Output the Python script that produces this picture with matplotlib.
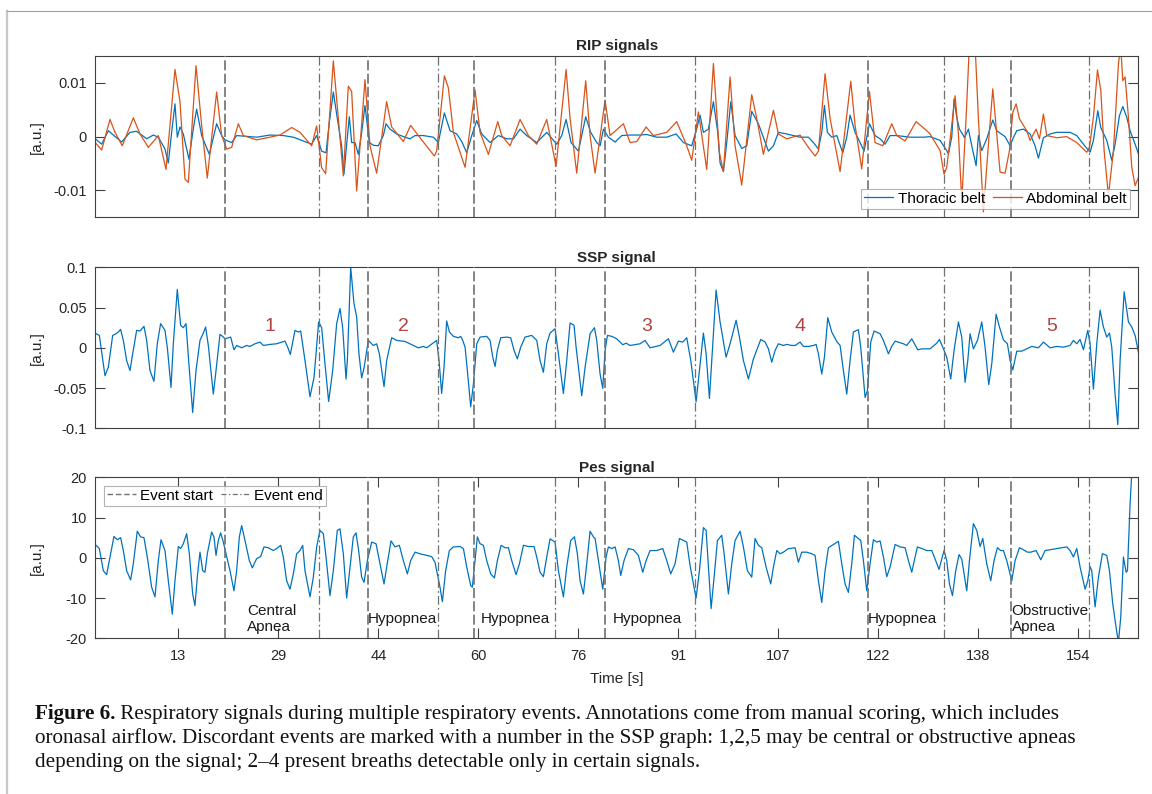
import numpy as np
import matplotlib
matplotlib.use("Agg")
import matplotlib.pyplot as plt
from matplotlib.lines import Line2D

plt.rcParams['font.family'] = ['Liberation Sans', 'DejaVu Sans']
plt.rcParams['axes.unicode_minus'] = False

# ---- data (time in s) ----
thor_t = [0.25, 1.24, 2.28, 3.06, 4.36, 5.66, 6.7, 8.26, 9.3, 10.08, 11.12, 11.64, 12.16, 12.68, 13.04,
          13.46, 13.98, 14.86, 15.54, 16.06, 16.84, 18.04, 19.18, 19.96, 20.48, 21.52, 22.3, 25.42, 27.5,
          29.58, 31.14, 32.7, 34.0, 34.78, 35.56, 36.24, 36.76, 37.38, 38.0, 38.68, 39.04, 39.46, 39.88,
          40.24, 40.76, 41.28, 41.8, 42.32, 43.0, 43.62, 44.4, 45.18, 45.6, 46.22, 47.26, 48.56, 49.34,
          50.12, 51.42, 52.98, 53.76, 54.7, 55.59, 56.63, 57.41, 58.19, 58.97, 59.75, 60.53, 61.83, 63.13,
          64.43, 65.47, 66.51, 67.55, 69.11, 70.67, 72.23, 73.01, 73.69, 74.47, 75.61, 76.75, 77.53, 78.47,
          78.99, 79.51, 80.29, 81.33, 82.37, 83.67, 85.23, 86.27, 87.83, 89.39, 90.85, 91.99, 93.29, 94.07,
          94.59, 95.11, 95.89, 96.67, 97.35, 97.71, 98.23, 98.75, 99.38, 100.05, 101.09, 101.87, 102.65,
          103.69, 105.25, 106.03, 106.81, 108.11, 110.19, 111.49, 112.27, 113.05, 113.57, 113.99, 114.45,
          115.13, 115.91, 116.85, 117.47, 117.99, 118.77, 119.55, 120.17, 121.01, 121.89, 122.67, 123.45,
          124.23, 125.27, 127.35, 129.43, 130.47, 132.03, 133.07, 133.33, 133.85, 134.21, 134.63, 135.05,
          135.67, 135.83, 136.45, 136.97, 137.65, 138.01, 138.53, 139.31, 140.25, 140.87, 142.17, 142.95,
          143.37, 143.99, 145.03, 146.07, 146.85, 147.37, 148.15, 149.19, 150.23, 152.31, 153.35, 154.39,
          155.43, 155.95, 156.63, 157.1, 158.03, 158.81, 159.33, 160.01, 160.53, 161.15, 161.67, 162.45,
          162.97]
thor = [-0.0004, -0.0014, 0.0011, 0.0003, -0.001, 0.0008, 0.001, -0.0004, 0.0003, -0.0001, -0.0023,
        -0.0049, 0.0008, 0.0061, -0.0001, 0.0018, 0.0005, -0.0042, 0.0015, 0.0051, 0.0002, -0.0033, 0.0024,
        0.0002, -0.0006, -0.0011, 0.0002, -0.0001, 0.0003, 0.0002, -0.0001, -0.0008, -0.0014, 0.0002,
        -0.0027, -0.003, 0.0027, 0.0083, 0.0034, -0.0017, -0.007, -0.0014, 0.0037, -0.0011, -0.0011,
        -0.0033, 0.0008, 0.0058, -0.0011, -0.0016, -0.0017, 0.0002, 0.0024, 0.0014, 0.0005, -0.0001,
        -0.0004, 0.0002, 0.0002, -0.0001, -0.0011, 0.0044, 0.0011, 0.0005, -0.0009, -0.003, 0.0002, 0.003,
        0.0005, -0.0011, 0.0002, -0.0004, -0.0004, 0.0014, 0.0002, -0.0011, 0.0008, -0.0014, 0.0002,
        0.0032, -0.0011, -0.0027, 0.0037, 0.0008, -0.0011, -0.0017, 0.0014, -0.0001, -0.001, 0.0002,
        0.0003, 0.0003, 0.0004, -0.0001, -0.0001, 0.0005, -0.0011, -0.0017, 0.0015, 0.004, 0.0008, 0.0014,
        0.0065, 0.0008, -0.0049, -0.0065, -0.0011, 0.0065, 0.0002, -0.0022, -0.0017, 0.0047, 0.0024,
        -0.0027, -0.0017, 0.0008, 0.0005, -0.0001, -0.0001, -0.0011, -0.0023, 0.0008, 0.0058, 0.0008,
        -0.0001, 0.0002, -0.003, -0.0001, 0.004, 0.0008, -0.0011, -0.0027, 0.0024, 0.0002, -0.0004,
        -0.0014, 0.0002, 0.0002, -0.0001, -0.0001, 0.0, -0.0007, -0.0026, -0.0032, -0.0001, 0.007, 0.0036,
        0.0014, 0.0002, -0.0002, 0.0014, -0.0017, -0.0054, 0.0002, -0.0026, -0.0004, 0.0031, 0.0011, 0.0,
        -0.0017, -0.0004, 0.0011, 0.0014, 0.0005, -0.0017, -0.004, -0.0002, 0.0005, 0.0008, 0.0008, 0.0002,
        -0.0014, -0.0029, -0.0007, 0.0048, 0.0017, -0.0007, -0.0044, -0.0014, 0.0039, 0.0056, 0.0036,
        0.0011, -0.0014, -0.0032]

abd_t = [0.25, 1.24, 2.54, 3.32, 4.46, 6.18, 7.22, 8.52, 10.08, 11.28, 12.68, 13.46, 14.24, 14.76, 15.96,
         16.84, 17.72, 19.18, 19.96, 20.74, 21.52, 22.56, 23.34, 25.42, 27.5, 29.06, 30.88, 32.18, 34.0,
         34.78, 35.56, 36.18, 37.38, 38.16, 38.94, 39.72, 40.24, 41.02, 42.32, 43.1, 44.14, 45.7, 46.48,
         48.3, 49.44, 50.64, 53.14, 53.5, 54.7, 55.32, 56.11, 57.93, 59.49, 60.27, 61.57, 63.03, 63.65,
         64.95, 66.51, 67.81, 69.11, 70.67, 72.13, 73.69, 74.31, 75.35, 76.75, 77.43, 78.21, 79.77, 80.55,
         82.63, 83.67, 84.71, 86.17, 87.31, 89.39, 90.95, 92.51, 93.29, 94.33, 95.63, 96.67, 97.61, 98.23,
         99.27, 100.05, 101.09, 102.65, 103.43, 104.47, 106.03, 106.81, 108.11, 110.19, 111.49, 112.53,
         113.05, 114.09, 114.87, 116.43, 118.1, 118.77, 119.81, 121.01, 121.89, 123.09, 124.49, 125.27,
         126.57, 128.29, 129.95, 130.47, 132.03, 132.65, 133.07, 133.69, 134.37, 134.89, 135.41, 136.09,
         136.6, 137.49, 138.0, 138.79, 139.57, 140.25, 140.87, 141.39, 142.17, 142.85, 143.37, 143.89,
         144.41, 145.55, 146.07, 147.01, 147.53, 148.15, 148.67, 150.23, 151.79, 153.35, 154.91, 155.33,
         155.95, 156.58, 157.1, 157.62, 158.29, 159.07, 159.85, 160.2, 160.53, 160.89, 161.41, 161.93,
         162.45, 162.97]
abd = [-0.0011, -0.0025, 0.0032, 0.0008, -0.0017, 0.0035, 0.0005, -0.002, 0.0002, -0.0061, 0.0125,
       0.0065, -0.0079, -0.0085, 0.0132, 0.0021, -0.0077, 0.0083, 0.0002, -0.0023, -0.002, 0.0024, 0.0002,
       -0.0006, -0.0001, 0.0003, 0.0017, 0.0008, -0.0017, 0.002, -0.0058, -0.0069, 0.0141, 0.0034, -0.0073,
       0.0094, 0.0084, -0.0101, 0.0106, -0.0017, -0.0068, 0.0065, 0.0018, -0.0009, 0.0021, 0.0002, -0.0036,
       -0.0027, 0.0113, 0.0091, 0.0008, -0.0057, 0.0087, 0.0008, -0.0033, 0.0028, 0.0002, -0.0017, 0.0032,
       0.0002, -0.0014, 0.0032, -0.0055, 0.0125, 0.0034, -0.0068, 0.0104, 0.0002, -0.0068, 0.0068, 0.0002,
       0.0024, -0.0011, -0.0009, 0.0018, 0.0002, 0.0008, 0.0028, -0.0017, -0.0044, 0.0046, -0.0061, 0.0136,
       -0.003, -0.0065, 0.0111, -0.0017, -0.009, 0.0078, 0.0034, -0.0033, 0.0049, 0.0005, -0.0004, 0.0003,
       -0.002, -0.0036, -0.0027, 0.0117, 0.0034, -0.0065, 0.0103, 0.0021, -0.006, 0.0084, -0.0011, -0.0017,
       0.0024, 0.0002, -0.0008, 0.0028, 0.0011, 0.0005, -0.0026, -0.007, -0.0057, 0.0005, 0.0076, 0.0005,
       -0.012, 0.0036, 0.017, 0.017, 0.0036, -0.014, -0.0014, 0.0089, 0.0005, -0.0066, -0.0068, -0.0026,
       0.0045, 0.0061, 0.0033, 0.0011, -0.0007, 0.0014, -0.0004, 0.0042, 0.0002, -0.0002, 0.0, -0.0011,
       -0.0029, -0.002, 0.0036, 0.0124, 0.0086, -0.0026, -0.011, -0.0026, 0.0135, 0.017, 0.0104, 0.0111,
       0.0036, -0.0057, -0.0091, -0.0076]

ssp_t = [0.36, 0.88, 1.76, 2.28, 2.96, 3.32, 3.84, 4.2, 4.62, 5.14, 5.66, 6.08, 6.7, 7.22, 7.84, 8.26, 8.78,
         9.4, 9.92, 10.44, 11.12, 11.48, 12.06, 12.42, 13.04, 13.56, 13.98, 14.4, 14.81, 15.44, 15.96, 16.58,
         17.1, 17.46, 17.88, 18.66, 19.08, 19.7, 20.12, 20.48, 21.0, 21.37, 21.88, 22.3, 23.08, 23.86, 24.38,
         25.16, 25.94, 26.46, 27.5, 28.54, 29.84, 30.26, 30.67, 31.4, 31.92, 32.29, 32.96, 33.74, 34.37,
         35.09, 35.56, 36.08, 36.65, 37.28, 37.9, 38.42, 38.84, 39.36, 39.57, 40.09, 40.6, 41.02, 41.38,
         41.8, 42.17, 42.84, 43.62, 44.14, 44.56, 45.29, 45.7, 46.48, 47.26, 48.56, 49.86, 50.64, 51.42,
         51.94, 53.5, 53.87, 54.28, 54.65, 55.06, 55.49, 56.11, 56.89, 57.25, 57.57, 57.93, 58.29, 58.81,
         59.23, 59.75, 60.27, 61.31, 61.83, 62.25, 62.61, 62.97, 63.49, 64.43, 65.05, 65.57, 66.09, 66.61,
         67.29, 68.33, 69.11, 69.63, 70.15, 70.67, 71.19, 71.97, 72.49, 73.27, 73.79, 74.31, 74.93, 75.25,
         76.13, 76.65, 77.43, 78.11, 78.47, 78.99, 79.41, 79.77, 80.14, 80.81, 81.59, 82.53, 83.05, 83.67,
         85.23, 86.01, 86.79, 88.35, 89.65, 90.43, 91.21, 91.89, 92.51, 93.14, 93.97, 94.49, 95.11, 95.53,
         96.05, 96.41, 97.09, 97.71, 98.65, 99.27, 100.21, 100.73, 101.35, 102.13, 102.91, 104.06, 104.73,
         105.25, 105.77, 106.29, 106.81, 107.59, 108.11, 108.89, 109.41, 110.19, 110.71, 111.49, 112.27,
         112.69, 113.05, 113.57, 113.99, 114.51, 115.13, 115.91, 116.43, 116.95, 117.47, 117.99, 118.51,
         119.03, 119.29, 119.65, 120.33, 120.69, 121.21, 121.73, 122.67, 123.19, 123.97, 124.49, 125.01,
         126.31, 126.83, 127.61, 128.55, 129.17, 130.47, 131.51, 131.93, 132.45, 133.07, 133.69, 134.21,
         134.89, 135.41, 135.93, 136.35, 136.71, 137.23, 137.86, 138.53, 139.05, 139.62, 140.09, 140.77,
         141.29, 141.91, 142.53, 142.95, 143.37, 143.99, 144.77, 145.55, 146.33, 147.37, 148.15, 149.19,
         150.23, 151.27, 152.31, 152.83, 153.35, 153.87, 154.39, 155.07, 155.43, 155.95, 156.47, 156.99,
         157.51, 158.03, 158.45, 158.81, 159.33, 159.75, 160.11, 160.74, 161.41, 161.93, 162.45, 162.97]
ssp = [0.0175, 0.0154, -0.0346, -0.0242, 0.0154, 0.0167, 0.0196, 0.0229, 0.0092, -0.0158, -0.0283, -0.0075,
       0.0217, 0.0208, 0.0267, 0.0092, -0.0283, -0.0417, 0.005, 0.03, 0.0217, 0.0008, -0.0492, 0.005,
       0.0725, 0.0279, 0.025, 0.03, -0.0158, -0.0804, -0.0283, 0.0092, 0.0183, 0.0258, 0.0029, -0.0575,
       -0.0283, 0.0167, 0.0142, 0.0112, 0.0125, 0.0133, -0.0025, 0.0029, 0.0, 0.0029, 0.0017, 0.005, 0.0071,
       0.0029, 0.0042, 0.005, 0.0083, 0.0008, -0.0083, 0.0217, 0.0196, 0.0208, -0.0158, -0.0608, -0.0367,
       0.0321, 0.025, -0.02, -0.0667, -0.0283, 0.03, 0.0488, 0.025, -0.0388, -0.0158, 0.1, 0.055, 0.0383,
       -0.0075, -0.0375, -0.025, 0.0092, 0.0029, 0.005, -0.0075, -0.0483, -0.0158, 0.0125, 0.0092, 0.0079,
       0.0029, 0.0, 0.0017, 0.0, 0.0092, -0.0158, -0.0567, -0.0242, 0.0333, 0.0196, 0.0142, 0.0125, 0.0142,
       0.0092, 0.0008, -0.0283, -0.0733, -0.045, 0.005, 0.0133, 0.0142, 0.0092, -0.0117, -0.0233, -0.0033,
       0.0125, 0.0133, 0.0125, -0.0033, -0.0138, 0.0008, 0.0133, 0.0154, 0.0092, -0.0158, -0.0304, 0.005,
       0.0183, 0.0237, -0.0075, -0.0567, -0.0158, 0.0308, 0.0279, 0.0008, -0.0596, -0.0242, 0.0175, 0.025,
       0.0092, -0.0325, -0.0504, -0.0033, 0.0154, 0.0142, 0.0112, 0.0038, 0.0058, 0.0029, 0.005, 0.0092,
       0.0, 0.0029, 0.0112, -0.0054, 0.0083, 0.0071, 0.0125, -0.0158, -0.0671, -0.0283, 0.0183, -0.0075,
       -0.0629, -0.0158, 0.0717, 0.0321, -0.0117, 0.005, 0.0342, 0.0133, -0.0158, -0.0388, -0.0138, 0.0104,
       0.0071, -0.0013, -0.0179, -0.0033, 0.005, 0.0029, 0.0042, 0.0029, 0.0029, 0.0071, 0.0017, 0.0017,
       0.0029, 0.0042, -0.0075, -0.0325, -0.0117, 0.0375, 0.0196, 0.0079, 0.0029, -0.0283, -0.0575,
       -0.0158, 0.0196, 0.0217, 0.0225, 0.0008, -0.0617, -0.0533, 0.0071, 0.0208, 0.0175, 0.0092, -0.0075,
       0.0017, 0.0083, 0.005, 0.0029, 0.0112, -0.0025, -0.0013, -0.0013, 0.0058, 0.0104, 0.0008, -0.0117,
       -0.0388, -0.0033, 0.0321, 0.0133, -0.0429, -0.0158, 0.0175, -0.0013, 0.0092, 0.0321, 0.0008,
       -0.0458, -0.02, 0.0417, 0.0258, 0.01, 0.005, -0.0158, -0.0275, -0.0042, -0.0042, -0.0013, 0.0017,
       0.0, 0.0071, 0.0, 0.0017, 0.0008, 0.0029, 0.0092, 0.005, 0.0104, -0.0025, 0.0217, 0.005, -0.0513,
       0.005, 0.0467, 0.0258, 0.0133, 0.0183, 0.0008, -0.0575, -0.0954, -0.0158, 0.0696, 0.0321, 0.0258,
       0.0154, -0.0054]

pes_t = [0.36, 0.88, 1.5, 2.02, 2.54, 3.16, 3.68, 4.2, 4.62, 5.14, 5.76, 6.18, 6.8, 7.32, 7.84, 8.36, 9.04,
         9.56, 10.08, 10.5, 11.12, 11.64, 12.26, 12.68, 13.2, 13.56, 13.98, 14.5, 14.92, 15.44, 15.8, 16.16,
         16.58, 17.0, 17.36, 17.72, 18.4, 18.76, 19.08, 19.44, 19.8, 20.22, 20.64, 21.26, 21.88, 22.3, 22.72,
         23.08, 23.6, 24.28, 24.74, 25.42, 26.04, 26.56, 27.24, 28.02, 28.54, 29.17, 29.58, 30.1, 30.62,
         31.14, 31.66, 32.18, 32.6, 32.96, 33.74, 34.26, 34.78, 35.3, 35.82, 36.24, 36.86, 37.38, 38.0,
         38.42, 38.94, 39.46, 39.98, 40.5, 40.92, 41.33, 41.8, 42.17, 42.69, 43.36, 44.04, 44.56, 45.29,
         45.7, 46.38, 47.0, 47.68, 48.3, 48.93, 49.44, 50.12, 50.9, 51.94, 52.72, 53.24, 53.5, 54.02, 54.39,
         54.9, 55.48, 56.11, 57.15, 57.67, 58.19, 58.81, 59.07, 59.49, 59.85, 60.27, 60.79, 61.31, 61.93,
         62.51, 62.97, 63.55, 64.17, 64.69, 65.21, 65.89, 66.41, 67.03, 67.81, 68.69, 69.11, 69.63, 70.15,
         70.67, 71.19, 71.97, 72.49, 73.27, 73.79, 74.41, 74.99, 75.45, 75.87, 76.39, 76.91, 77.43, 77.95,
         78.21, 78.73, 79.41, 79.93, 80.29, 80.81, 81.33, 81.85, 82.21, 82.73, 83.41, 84.19, 84.97, 85.65,
         86.17, 86.79, 87.83, 88.77, 89.39, 90.01, 90.69, 91.37, 91.99, 92.51, 93.03, 93.55, 93.97, 94.49,
         95.11, 95.53, 95.89, 96.31, 96.78, 97.3, 97.97, 98.34, 99.01, 99.53, 100.05, 100.83, 101.35,
         101.97, 102.65, 103.17, 103.69, 104.21, 104.89, 105.61, 106.03, 106.55, 107.07, 107.59, 108.37,
         108.63, 109.41, 109.93, 110.45, 111.23, 112.01, 112.53, 113.05, 113.57, 114.09, 114.61, 115.39,
         116.17, 116.69, 117.21, 117.73, 118.25, 118.67, 119.29, 119.65, 120.07, 120.59, 121.11, 121.63,
         122.15, 122.67, 123.19, 123.71, 124.23, 125.01, 125.79, 126.57, 127.09, 127.61, 128.13, 128.49,
         129.17, 129.95, 130.73, 131.25, 131.87, 132.29, 132.65, 133.07, 133.49, 133.96, 134.47, 134.99,
         135.41, 135.78, 136.19, 136.61, 137.23, 137.75, 138.27, 138.69, 139.31, 139.93, 140.45, 140.97,
         141.49, 141.91, 142.43, 143.21, 143.73, 144.41, 145.03, 145.65, 146.17, 147.01, 147.74, 148.41,
         149.19, 150.23, 151.79, 152.31, 152.83, 153.35, 153.87, 154.65, 155.07, 155.43, 155.69, 156.21,
         156.73, 157.35, 158.03, 158.45, 158.97, 159.49, 159.85, 160.21, 160.63, 161.05, 161.26, 161.67,
         161.93]
pes = [3.1, 2.3, -3.2, -4.2, 0.2, 5.3, 4.5, 5.0, 1.8, -3.2, -5.5, -1.5, 6.6, 5.2, 5.0, 0.2, -7.3, -9.7, -0.7,
       4.5, 1.8, -5.7, -14.0, -5.7, 2.8, 2.3, 3.5, 6.0, 1.0, -9.0, -11.9, -4.8, 1.4, -3.2, -3.6, 1.0, 6.4,
       5.2, 0.6, 4.3, 6.2, 3.9, 1.0, -3.2, -8.2, -3.2, 5.2, 8.0, 4.3, -0.7, -2.5, -0.2, 0.3, 2.7, 2.5, 1.8,
       2.3, 3.1, 0.2, -5.7, -7.8, -4.0, 1.0, 1.8, 3.1, -3.2, -9.7, -4.8, 2.7, 6.8, 6.0, 0.2, -9.4, -3.2, 6.8,
       7.2, 1.0, -10.0, -2.3, 5.2, 6.2, 1.8, -4.8, -6.1, -0.7, 3.9, 3.5, -0.7, -6.5, -2.3, 4.2, 2.7, 3.1,
       -0.7, -4.0, -0.7, 1.4, 1.0, 0.6, 0.3, -1.1, -3.2, -7.3, -10.9, -3.2, 1.8, 2.7, 2.8, 2.3, -2.3, -6.9,
       -7.3, -0.7, 5.2, 3.5, 3.1, -0.7, -4.0, -5.0, -0.7, 3.1, 2.5, 2.5, -0.7, -4.2, -1.5, 3.1, 2.8, 2.8, 0.2,
       -3.6, -4.7, 0.2, 4.7, 3.9, -3.2, -9.7, -2.3, 4.3, 5.2, 1.0, -5.7, -9.0, -1.5, 6.6, 5.2, 4.8, -0.7,
       -7.8, 0.2, 2.7, 2.3, 2.7, -0.7, -4.4, -0.7, 2.3, 2.0, 0.6, -3.6, -0.7, 1.8, 1.8, 2.3, -0.7, -4.0,
       -1.5, 4.8, 4.3, 3.9, -1.9, -6.5, -10.0, -3.2, 7.5, 6.8, -2.3, -12.6, -4.8, 4.3, 5.6, 1.0, -9.0, -1.5,
       4.3, 6.6, 2.7, -3.2, -4.8, 4.8, 3.1, 2.5, -2.3, -6.5, -2.3, 1.8, 1.0, 1.4, 2.3, 2.3, 2.5, -1.1, 1.4,
       1.4, 1.0, 0.6, -5.7, -11.1, -3.2, 2.5, 3.3, 4.1, -1.5, -6.5, -8.6, -1.5, 5.6, 4.8, 4.3, -0.7, -8.2,
       -1.5, 4.5, 3.9, 4.2, 0.2, -4.7, -2.3, 3.3, 2.7, 2.5, -0.7, -3.6, 0.2, 2.7, 2.3, 1.8, 1.8, -0.3, -2.9,
       -0.3, 1.8, -0.7, -6.5, -9.4, -3.2, 0.8, -0.3, -4.0, -8.2, -0.7, 8.5, 6.8, 2.8, 4.8, -1.5, -5.7, -0.7,
       2.5, 1.8, 1.8, -0.7, -5.7, -0.7, 2.5, 2.0, 1.4, 1.4, 1.8, -0.5, 1.8, 2.0, 2.3, 2.7, 1.8, 0.2, 2.3,
       -2.3, -7.8, -5.7, -2.2, -3.2, -12.2, -4.8, 1.0, 0.6, -3.2, -11.5, -17.3, -21.0, -14.8, 0.2, -3.6,
       -3.2, 13.5, 21.0]

event_start = [20.5, 42.8, 59.3, 79.7, 120.8, 143.1]
event_end = [35.2, 53.7, 72.0, 93.8, 132.6, 155.3]

event_names = ['Central\nApnea', 'Hypopnea', 'Hypopnea', 'Hypopnea', 'Hypopnea', 'Obstructive\nApnea']
event_name_t = [23.9, 42.75, 60.4, 80.9, 120.8, 143.2]

disc_labels = ['1', '2', '3', '4', '5']
disc_t = [27.5, 48.3, 86.3, 110.2, 149.5]
disc_y = 0.027

xtick_pos = [13.2, 28.8, 44.4, 60.0, 75.6, 91.2, 106.8, 122.4, 138.0, 153.6]
xtick_labels = ['13', '29', '44', '60', '76', '91', '107', '122', '138', '154']

# ---- style ----
BLUE = '#0072BD'
ORANGE = '#D95319'
GREY = '#707070'
FRAME = '#404040'
TXT = '#262626'
FS = 11

fig = plt.figure(figsize=(11.52, 7.94), dpi=100)

left, width = 95.3 / 1152, 1043 / 1152
ax1 = fig.add_axes([left, 1 - 217.3 / 794, width, 161.3 / 794])
ax2 = fig.add_axes([left, 1 - 428.3 / 794, width, 161.0 / 794])
ax3 = fig.add_axes([left, 1 - 638.3 / 794, width, 161.0 / 794])


def events(ax):
    for x in event_start:
        ax.axvline(x, color=GREY, lw=1.2, ls=(0, (6, 2)), zorder=3)
    for x in event_end:
        ax.axvline(x, color=GREY, lw=0.9, ls=(0, (7, 2.5, 1.5, 2.5)), zorder=3)


def style(ax, yt, ylab):
    ax.set_xlim(0.25, 162.95)
    for s in ax.spines.values():
        s.set_color(FRAME)
        s.set_linewidth(0.8)
    ax.set_yticks(yt)
    ax.set_yticklabels(ylab)
    ax.tick_params(direction='in', length=7, width=0.8, colors=FRAME, labelsize=10.5,
                   right=True, top=True, pad=6)
    ax.tick_params(labelcolor=TXT)
    ax.set_ylabel('[a.u.]', fontsize=FS, color=TXT)
    ax.yaxis.set_label_coords(-0.049, 0.5)


def small_legend(ax, handles, labels, loc):
    lg = ax.legend(handles, labels, loc=loc, ncol=2, fontsize=FS, frameon=True,
                   fancybox=False, borderpad=0.2, handlelength=1.9, handletextpad=0.3,
                   columnspacing=0.5, borderaxespad=0.55)
    lg.get_frame().set_edgecolor('#a0a0a0')
    lg.get_frame().set_linewidth(0.8)
    lg.set_zorder(5)
    return lg


# RIP
l1, = ax1.plot(thor_t, thor, color=BLUE, lw=0.9)
l2, = ax1.plot(abd_t, abd, color=ORANGE, lw=0.9)
events(ax1)
ax1.set_ylim(-0.015, 0.015)
style(ax1, [-0.01, 0, 0.01], ['-0.01', '0', '0.01'])
ax1.set_xticks([])
ax1.set_title('RIP signals', fontsize=FS, fontweight='bold', color=TXT, pad=4)
small_legend(ax1, [l1, l2], ['Thoracic belt', 'Abdominal belt'], 'lower right')

# SSP
ax2.plot(ssp_t, ssp, color=BLUE, lw=0.9)
events(ax2)
ax2.set_ylim(-0.1, 0.1)
style(ax2, [-0.1, -0.05, 0, 0.05, 0.1], ['-0.1', '-0.05', '0', '0.05', '0.1'])
ax2.set_xticks([])
ax2.set_title('SSP signal', fontsize=FS, fontweight='bold', color=TXT, pad=4)
for lab, t in zip(disc_labels, disc_t):
    ax2.text(t, disc_y, lab, color='#AE4444', fontsize=14, ha='center', va='center')

# Pes
ax3.plot(pes_t, pes, color=BLUE, lw=0.9)
events(ax3)
ax3.set_ylim(-20, 20)
style(ax3, [-20, -10, 0, 10, 20], ['-20', '-10', '0', '10', '20'])
ax3.set_xticks(xtick_pos)
ax3.set_xticklabels(xtick_labels)
ax3.tick_params(axis='x', pad=8)
ax3.set_xlim(0.25, 162.95)
ax3.set_xlabel('Time [s]', fontsize=FS, color=TXT, labelpad=6)
ax3.set_title('Pes signal', fontsize=FS, fontweight='bold', color=TXT, pad=4)
for name, t in zip(event_names, event_name_t):
    ax3.text(t, -15.2, name, fontsize=FS, color='#1a1a1a', ha='left', va='center', linespacing=1.25)
h_start = Line2D([], [], color=GREY, lw=1.0, ls=(0, (4, 2)))
h_end = Line2D([], [], color=GREY, lw=0.9, ls=(0, (4, 2, 1, 2)))
small_legend(ax3, [h_start, h_end], ['Event start', 'Event end'], 'upper left')

# page border
fig.add_artist(Line2D([7 / 1152, 7 / 1152], [0, 1 - 11 / 794], color='#c8c8c8', lw=1.6))
fig.add_artist(Line2D([7 / 1152, 1], [1 - 11 / 794, 1 - 11 / 794], color='#a0a0a0', lw=0.8))

# caption
cap_font = dict(family=['Liberation Serif', 'DejaVu Serif'], fontsize=15.2, color='#111111')
fig.canvas.draw()
r = fig.canvas.get_renderer()
cx = 35 / 1152
b1 = fig.text(cx, 1 - 719 / 794, 'Figure 6.', fontweight='bold', va='baseline', **cap_font)
bb = b1.get_window_extent(r)
fig.text(bb.x1 / fig.bbox.width, 1 - 719 / 794,
         ' Respiratory signals during multiple respiratory events. Annotations come from manual scoring, which includes',
         va='baseline', **cap_font)
fig.text(cx, 1 - 743 / 794,
         'oronasal airflow. Discordant events are marked with a number in the SSP graph: 1,2,5 may be central or obstructive apneas',
         va='baseline', **cap_font)
fig.text(cx, 1 - 767 / 794,
         'depending on the signal; 2\u20134 present breaths detectable only in certain signals.',
         va='baseline', **cap_font)

fig.savefig('out.png', dpi=100)
